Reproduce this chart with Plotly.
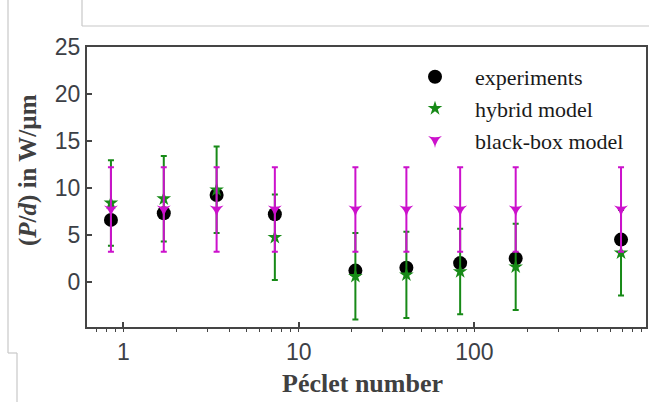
import plotly.graph_objects as go

# ---- data ----
peclet = [0.85, 1.7, 3.4, 7.3, 21, 41, 83, 172, 685]
experiments = [6.6, 7.3, 9.25, 7.2, 1.2, 1.5, 2.0, 2.5, 4.5]
hybrid = [8.4, 8.85, 9.8, 4.75, 0.6, 0.75, 1.1, 1.6, 3.1]
hybrid_err = [4.55, 4.55, 4.6, 4.55, 4.6, 4.6, 4.55, 4.6, 4.55]
blackbox = [7.7, 7.7, 7.7, 7.7, 7.7, 7.7, 7.7, 7.7, 7.7]
blackbox_err = [4.5, 4.5, 4.5, 4.5, 4.5, 4.5, 4.5, 4.5, 4.5]
x_ticks = [1, 10, 100]
y_ticks = [0, 5, 10, 15, 20, 25]
x_title = "<b>Péclet number</b>"
y_title = "<b>(<i>P</i>/<i>d</i>) in W/µm</b>"

W, H = 649, 402
L, R, T, B = 87, 3, 47, 75
PW, PH = W - L - R, H - T - B

def px(x):
    return (x - L) / PW

def py(y):
    return (H - B - y) / PH

GREEN = "#178a17"
MAGENTA = "#cc11cc"
SERIF = "Liberation Serif"
SANS = "Liberation Sans"

fig = go.Figure()
fig.add_trace(go.Scatter(
    x=peclet, y=experiments, mode="markers", name="experiments",
    legendgroup="a",
    marker=dict(symbol="circle", size=14, color="black"),
))
fig.add_trace(go.Scatter(
    x=peclet, y=hybrid, mode="markers", name="hybrid model",
    legendgroup="b",
    marker=dict(symbol="star", size=11, color=GREEN),
    error_y=dict(type="data", array=hybrid_err, color=GREEN, thickness=2, width=3),
))
fig.add_trace(go.Scatter(
    x=peclet, y=blackbox, mode="markers", name="black-box model",
    legendgroup="c",
    marker=dict(symbol="star-triangle-down", size=10, color=MAGENTA),
    error_y=dict(type="data", array=blackbox_err, color=MAGENTA, thickness=2, width=3),
))

frame = "#454545"
fig.update_xaxes(
    type="log", range=[-0.207, 2.978], tickvals=x_ticks, ticktext=[str(v) for v in x_ticks],
    ticks="inside", ticklen=5, tickwidth=1.5, tickcolor=frame,
    minor=dict(ticks="outside", ticklen=3, tickwidth=1.2, tickcolor=frame, dtick="D1", showgrid=False),
    showline=True, linecolor=frame, linewidth=2, mirror=True, showgrid=False, zeroline=False,
    tickfont=dict(family=SANS, size=23, color="#3c4046"), ticklabelstandoff=3,
)
fig.update_yaxes(
    range=[-4.8, 25], tickvals=y_ticks,
    ticks="inside", ticklen=5, tickwidth=1.5, tickcolor=frame,
    showline=True, linecolor=frame, linewidth=2, mirror=True, showgrid=False, zeroline=False,
    tickfont=dict(family=SANS, size=23, color="#3c4046"),
)

fig.add_annotation(text=x_title, xref="paper", yref="paper", x=px(362), y=py(383),
                   xanchor="center", yanchor="middle", showarrow=False,
                   font=dict(family=SERIF, size=26, color="#404040"))
fig.add_annotation(text=y_title, xref="paper", yref="paper", x=px(28), y=py(170),
                   xanchor="center", yanchor="middle", showarrow=False, textangle=-90,
                   font=dict(family=SERIF, size=25, color="#404040"))

line_c = "#c8c8c8"
segs = [
    (8, 0, 8, 353), (8, 353, 17, 353), (17, 353, 17, 402),
    (82, 0, 82, 26), (82, 26, 649, 26),
]
for x0, y0, x1, y1 in segs:
    fig.add_shape(type="line", xref="paper", yref="paper",
                  x0=px(x0), y0=py(y0), x1=px(x1), y1=py(y1),
                  line=dict(color=line_c, width=1.2))

fig.update_layout(
    width=W, height=H, margin=dict(l=L, r=R, t=T, b=B, autoexpand=False),
    paper_bgcolor="white", plot_bgcolor="white",
    showlegend=True,
    legend=dict(x=px(395), y=py(56), xanchor="left", yanchor="top",
                font=dict(family=SERIF, size=22, color="#1a1a1a"),
                itemwidth=70,
                bgcolor="rgba(0,0,0,0)", tracegroupgap=0),
)

fig.write_html("out.html", config={"displayModeBar": False},
               post_script="document.body.style.margin='0';")
